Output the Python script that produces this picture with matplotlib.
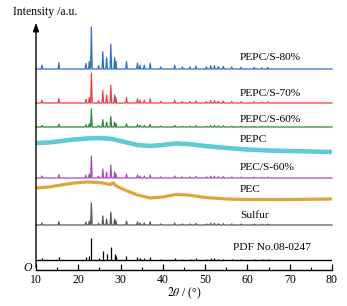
import matplotlib
matplotlib.use("Agg")
import matplotlib.pyplot as plt
import numpy as np

plt.rcParams['font.family'] = ['Liberation Serif', 'DejaVu Serif']
plt.rcParams['mathtext.fontset'] = 'stix'

# ---- data ----
# Sulfur reflections (2theta, deg) and relative intensities (read from PDF bar pattern)
peak_pos = [11.4, 15.4, 21.8, 22.6, 23.1, 24.8, 25.8, 26.7, 27.7, 28.6, 28.9, 31.4,
            34.0, 34.6, 35.6, 37.0, 39.5, 42.8, 44.6, 46.4, 47.8, 50.3, 51.3, 52.2,
            53.1, 54.3, 56.3, 58.5, 61.6, 63.4, 64.8]
peak_rel = [0.09, 0.15, 0.13, 0.18, 1.00, 0.08, 0.41, 0.27, 0.59, 0.27, 0.18, 0.18,
            0.14, 0.09, 0.09, 0.14, 0.05, 0.09, 0.05, 0.05, 0.07, 0.05, 0.08, 0.08,
            0.06, 0.06, 0.05, 0.04, 0.04, 0.03, 0.04]

# main-peak heights of crystalline traces (a.u.)
crystal_series = ['PEPC/S-80%', 'PEPC/S-70%', 'PEPC/S-60%', 'PEC/S-60%', 'Sulfur']
crystal_height = [42, 30, 18, 22, 22]
pdf_height = 22

# amorphous traces: (2theta, intensity)
pepc_x = [10, 13, 16, 19, 22, 25, 28, 31, 34, 37, 40, 43, 46, 50, 55, 60, 65, 70, 75, 80]
pepc_y = [127, 127.5, 129, 130.5, 131.5, 132, 131, 128, 125, 124, 125, 126.5,
          126, 124, 122, 120.5, 119.5, 119, 118.5, 118]
pec_x = [10, 13, 16, 19, 22, 25, 27.5, 28.3, 29, 31, 34, 37, 40, 43, 46, 50, 55, 60, 70, 80]
pec_y = [82, 83, 85, 87, 88, 87.5, 85.5, 87, 84, 80, 75, 72, 73, 75.5, 75, 72.5,
         71, 70.5, 70.5, 71]

xticks = [10, 20, 30, 40, 50, 60, 70, 80]

# ---- layout / style ----
offsets = {'PEPC/S-80%': 201, 'PEPC/S-70%': 167, 'PEPC/S-60%': 143,
           'PEC/S-60%': 92, 'Sulfur': 45}
pdf_offset = 10
colors = {'PEPC/S-80%': '#3070c4', 'PEPC/S-70%': '#ec4048', 'PEPC/S-60%': '#2d8a3c',
          'PEC/S-60%': '#a650b4', 'Sulfur': '#5a5a5a', 'PEPC': '#62c9d6', 'PEC': '#e2a43a'}
label_y = {'PEPC/S-80%': 212, 'PEPC/S-70%': 176, 'PEPC/S-60%': 151, 'PEPC': 131,
           'PEC/S-60%': 103, 'PEC': 80, 'Sulfur': 55, 'PDF No.08-0247': 23}
label_x = {'PDF No.08-0247': 56.6}
half_w = 0.18

fig = plt.figure(figsize=(3.47, 3.06), dpi=100)
ax = fig.add_axes([36/347, 36/306, 296/347, 248/306])
ax.set_xlim(10, 80)
ax.set_ylim(0, 248)

def peak_trace(height, off):
    xs, ys = [10], [off]
    for p, r in zip(peak_pos, peak_rel):
        xs += [p - half_w, p, p + half_w]
        ys += [off, off + r * height, off]
    xs.append(80); ys.append(off)
    return xs, ys

for name, h in zip(crystal_series, crystal_height):
    xs, ys = peak_trace(h, offsets[name])
    ax.plot(xs, ys, color=colors[name], lw=0.9, clip_on=False)

ax.plot(pepc_x, pepc_y, color=colors['PEPC'], lw=3.3, solid_joinstyle='round')
ax.plot(pec_x, pec_y, color=colors['PEC'], lw=2.3, solid_joinstyle='round')

# PDF bars
ax.axhline(pdf_offset, color='black', lw=1.0)
ax.vlines(peak_pos, pdf_offset, pdf_offset + np.array(peak_rel) * pdf_height,
          color='black', lw=0.9)

for name, y in label_y.items():
    ax.text(label_x.get(name, 58.2), y, name, fontsize=8.2, va='center', ha='left')

# axes styling
for s in ['left', 'top', 'right']:
    ax.spines[s].set_visible(False)
ax.spines['bottom'].set_linewidth(1.0)
ax.set_yticks([])
ax.set_xticks(xticks)
ax.set_xticks([15, 25, 35, 45, 55, 65, 75], minor=True)
ax.tick_params(axis='x', which='major', direction='in', length=4, width=0.9,
               labelsize=8.5, pad=3)
ax.tick_params(axis='x', which='minor', direction='in', length=2.5, width=0.8)
ax.annotate('', xy=(10, 250), xytext=(10, 0), xycoords='data',
            arrowprops=dict(arrowstyle='-|>,head_length=0.5,head_width=0.18',
                            color='black', lw=1.0), annotation_clip=False)

fig.text(13/347, 1 - 12/306, 'Intensity /a.u.', fontsize=8.5, va='center', ha='left')
fig.text(28/347, 1 - 268/306, 'O', fontsize=8.5, style='italic', va='center', ha='center')
fig.text(184/347, 1 - 293/306, r'$2\theta$ / (°)', fontsize=8.5, va='center', ha='center')

fig.savefig('out.png', dpi=100, facecolor='white')
